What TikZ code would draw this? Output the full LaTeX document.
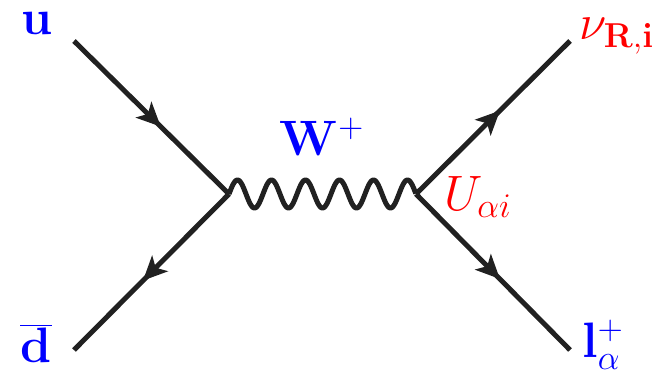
\documentclass[tikz,border=0pt]{standalone}
\usetikzlibrary{arrows.meta,decorations.markings,calc}
\begin{document}
\begin{tikzpicture}[x=0.5pt,y=-0.5pt,
  fermion/.style={line width=2.5pt,draw=black!87,
    postaction={decorate},
    decoration={markings,mark=at position #1 with {\arrow{Stealth[length=12pt,width=11pt,inset=3pt]}}}},
  boson/.style={line width=2.5pt,draw=black!87,line join=round},
  lab/.style={font=\fontsize{24}{28}\selectfont,inner sep=0pt},
  blab/.style={lab,text=blue},
  rlab/.style={lab,text=red}]
\useasboundingbox (0,0) rectangle (658,374);
\coordinate (u) at (74,41);
\coordinate (v1) at (229,194);
\coordinate (v2) at (416,194);
\coordinate (d) at (74,350);
\coordinate (nu) at (570,41);
\coordinate (l) at (570,350);
\draw[fermion=0.56] (u) -- (v1);
\draw[fermion=0.555] (v1) -- (d);
\draw[boson] let \p1=(v1), \p2=(v2) in
  plot[variable=\t, domain=0:1, samples=300, smooth]
  ({\x1+(\x2-\x1)*\t}, {\y1+7*sin(1980*\t)});
\draw[fermion=0.545] (v2) -- (nu);
\draw[fermion=0.545] (v2) -- (l);
\node[blab] (ul) at (37,23) {$\mathbf{u}$};
\node[blab] (dl) at (36,343) {$\overline{\mathbf{d}}$};
\node[blab] (wl) at (322,137) {$\mathbf{W}^{+}$};
\node[rlab] (nul) at (617,36) {$\nu_{\mathbf{R,i}}$};
\node[rlab] (ual) at (478,197) {$U_{\alpha i}$};
\node[blab] (ll) at (603,345) {$\mathbf{l}_{\alpha}^{+}$};
\end{tikzpicture}
\end{document}
